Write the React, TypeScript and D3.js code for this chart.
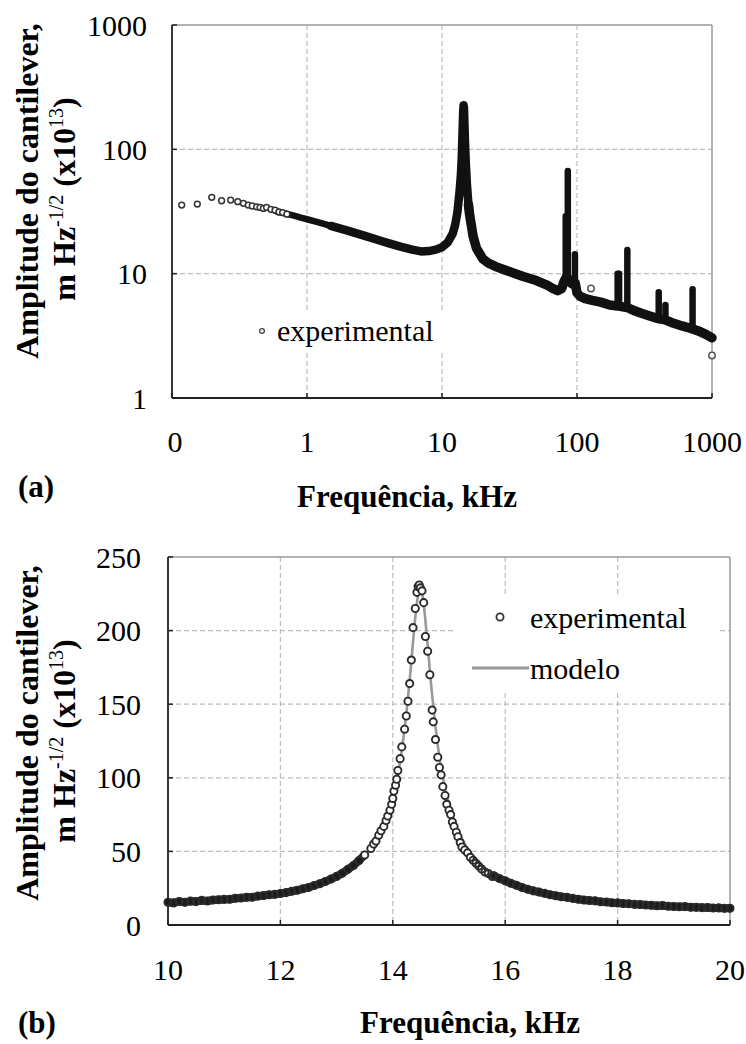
import React from "react";
import * as d3 from "d3";

// ---------- DATA (a) : log-log spectrum ----------
const topXTicks = [0.1, 1, 10, 100, 1000];
const topXTickLabels = ["0", "1", "10", "100", "1000"];
const topYTicks = [1, 10, 100, 1000];
const topYTickLabels = ["1", "10", "100", "1000"];

// sparse low-frequency points [kHz, amplitude]
const topSparse: [number, number][] = [
  [0.118, 35.6], [0.154, 36.3], [0.197, 41.1], [0.233, 38.6], [0.272, 39.1],
  [0.307, 37.9], [0.338, 36.8], [0.367, 35.6], [0.393, 35.0], [0.424, 34.5],
  [0.449, 34.1], [0.475, 33.5], [0.502, 34.1], [0.541, 32.9], [0.58, 32.4],
  [0.62, 31.4], [0.66, 31.0], [0.71, 30.1],
];

// dense band (thousands of overlapping points) [kHz, amplitude]
const topBand: [number, number][] = [
  [0.6, 31.5], [0.7, 30.4], [0.8, 29.3], [0.9, 28.2],
  [1.0, 27.4], [1.2, 26], [1.5, 24.2], [2.0, 22.2], [2.5, 20.6], [3.0, 19.4],
  [3.5, 18.4], [4.0, 17.6], [5.0, 16.4], [6.0, 15.6], [7.0, 15.1], [8.0, 15.2],
  [9.0, 15.6], [10, 16.3], [11, 17.8], [12, 21], [12.5, 24.5], [13, 31],
  [13.5, 46], [13.8, 62], [14.0, 85], [14.2, 140], [14.35, 200], [14.45, 226],
  [14.55, 215], [14.65, 165], [14.8, 115], [15.0, 78], [15.3, 52], [15.7, 36],
  [16, 30], [17, 20], [18, 16], [20, 13.2], [22, 12.2], [25, 11.4], [30, 10.6],
  [35, 10], [40, 9.5], [50, 8.8], [60, 8.1], [66, 7.6], [72, 7.3], [77, 7.6],
  [80, 8.6], [84, 9.5], [88, 8.6], [93, 8.2], [97, 8.4], [100, 7], [105, 6.6],
  [115, 6.3], [130, 6.1], [150, 5.9], [175, 5.6], [200, 5.5], [240, 5.3],
  [270, 5.0], [300, 4.8], [350, 4.55], [400, 4.35], [450, 4.25], [500, 4.05],
  [600, 3.8], [700, 3.62], [800, 3.45], [900, 3.25], [1000, 3.05],
];

// narrow spikes: [kHz, base amplitude, top amplitude]
const topSpikes: [number, number, number][] = [
  [82.5, 9, 29], [85.5, 9, 67], [96.5, 8.2, 14.3], [200, 5.5, 10],
  [205, 5.5, 10], [236, 5.3, 15.5], [403, 4.4, 7.1], [452, 4.3, 5.6], [718, 3.6, 7.5],
];

const topOutliers: [number, number][] = [[127, 7.6], [1000, 2.2]];

// ---------- DATA (b) : linear zoom on resonance ----------
const botXTicks = [10, 12, 14, 16, 18, 20];
const botYTicks = [0, 50, 100, 150, 200, 250];

const expLeftTail: [number, number][] = [
  [10.0, 15.5], [10.1, 15.0], [10.2, 16.0], [10.3, 15.4], [10.4, 16.2], [10.5, 15.9],
  [10.6, 16.7], [10.7, 16.3], [10.8, 17.0], [10.9, 17.2], [11.0, 17.4], [11.1, 17.5],
  [11.2, 18.2], [11.3, 18.3], [11.4, 18.8], [11.5, 18.9], [11.6, 19.6], [11.7, 20.0],
  [11.8, 20.6], [11.9, 20.8], [12.0, 21.4], [12.1, 22.0], [12.2, 22.9], [12.3, 23.6],
  [12.4, 24.6], [12.5, 25.5], [12.6, 26.8], [12.7, 28.0], [12.8, 29.6], [12.9, 31.2],
  [13.0, 33.0], [13.1, 35.2], [13.2, 37.8], [13.3, 40.4], [13.4, 43.8], [13.5, 47.6],
];

const expPeak: [number, number][] = [
  [13.61, 52], [13.66, 55], [13.70, 57], [13.75, 61], [13.79, 64], [13.84, 67],
  [13.88, 71], [13.91, 74], [13.95, 78], [13.98, 82], [14.00, 86], [14.02, 91],
  [14.05, 95], [14.07, 99], [14.09, 105], [14.13, 113], [14.16, 121], [14.21, 133],
  [14.24, 142], [14.27, 152], [14.30, 164], [14.33, 180], [14.36, 202], [14.40, 215],
  [14.43, 226], [14.45, 230], [14.47, 231], [14.49, 229], [14.52, 227], [14.55, 219],
  [14.58, 196], [14.62, 186], [14.66, 170], [14.70, 146], [14.72, 138], [14.76, 126],
  [14.80, 114], [14.83, 107], [14.86, 102], [14.89, 94], [14.93, 88], [14.96, 82],
  [15.00, 78], [15.03, 75], [15.06, 70], [15.09, 67], [15.13, 63], [15.16, 60],
  [15.20, 56], [15.23, 53], [15.28, 51], [15.33, 49], [15.38, 46], [15.43, 44],
  [15.48, 42], [15.53, 40], [15.58, 38], [15.64, 36], [15.70, 35], [15.77, 33],
];

const expRightTail: [number, number][] = [
  [15.8, 33.5], [15.9, 31.5], [16.0, 30.0], [16.1, 28.4], [16.2, 27.0], [16.3, 25.5],
  [16.4, 24.3], [16.5, 23.2], [16.6, 22.4], [16.7, 21.5], [16.8, 20.6], [16.9, 19.9],
  [17.0, 19.2], [17.1, 18.8], [17.2, 18.1], [17.3, 17.5], [17.4, 17.0], [17.5, 16.6],
  [17.6, 16.4], [17.7, 15.8], [17.8, 15.6], [17.9, 15.1], [18.0, 15.0], [18.1, 14.6],
  [18.2, 14.4], [18.3, 14.0], [18.4, 13.9], [18.5, 13.6], [18.6, 13.4], [18.7, 13.1],
  [18.8, 13.2], [18.9, 12.7], [19.0, 12.6], [19.1, 12.4], [19.2, 12.5], [19.3, 12.1],
  [19.4, 12.0], [19.5, 11.8], [19.6, 11.9], [19.7, 11.5], [19.8, 11.6], [19.9, 11.3],
  [20.0, 11.4],
];

const modelCurve: [number, number][] = [
  [10, 15], [10.5, 16], [11, 17.4], [11.5, 19.3], [12, 22], [12.5, 26.4], [13, 33.5],
  [13.25, 39.5], [13.5, 47.5], [13.75, 62], [13.93, 77], [14.03, 91], [14.13, 111],
  [14.23, 140], [14.33, 179], [14.38, 201], [14.43, 219], [14.49, 229], [14.53, 224],
  [14.58, 207], [14.63, 186], [14.68, 164], [14.73, 145], [14.83, 114], [14.93, 93],
  [15.03, 78], [15.13, 67], [15.28, 55], [15.53, 42.5], [15.78, 34.5], [16.03, 29],
  [16.5, 22.6], [17, 18.7], [17.5, 16.2], [18, 14.5], [18.5, 13.3], [19, 12.4],
  [19.5, 11.8], [20, 11.3],
];

// ---------- LAYOUT ----------
const W = 746;
const H = 1044;
const SERIF = '"Liberation Serif", "Times New Roman", Times, serif';
const TICK_FS = 30;
const TITLE_FS = 31;
const YTITLE_FS = 32;
const LEGEND_FS = 30;
const GRID = "#bdbdbd";

const xTop = d3.scaleLog().domain([0.1, 1000]).range([172, 712]);
const yTop = d3.scaleLog().domain([1, 1000]).range([398, 25]);
const xBot = d3.scaleLinear().domain([10, 20]).range([168, 730]);
const yBot = d3.scaleLinear().domain([0, 250]).range([925, 557]);

const serif = { fontFamily: SERIF };

function Frame({ x0, x1, y0, y1 }: { x0: number; x1: number; y0: number; y1: number }) {
  return (
    <g>
      <line x1={x0} y1={y0} x2={x1} y2={y0} stroke="#9a9a9a" strokeWidth={1.5} />
      <line x1={x1} y1={y0} x2={x1} y2={y1} stroke="#9a9a9a" strokeWidth={1.5} />
      <line x1={x0} y1={y0} x2={x0} y2={y1} stroke="#222" strokeWidth={1.8} />
      <line x1={x0} y1={y1} x2={x1} y2={y1} stroke="#222" strokeWidth={1.8} />
    </g>
  );
}

function YTitle({ x, y }: { x: number; y: number }) {
  return (
    <g style={serif} fontWeight="bold" fontSize={YTITLE_FS} fill="#000">
      <text transform={`translate(${x},${y}) rotate(-90)`} textAnchor="middle">
        Amplitude do cantilever,
      </text>
      <text transform={`translate(${x + 37},${y + 8}) rotate(-90)`} textAnchor="middle">
        <tspan>m Hz</tspan>
        <tspan fontSize={20} fontWeight="normal" dy={-12}>-1/2</tspan>
        <tspan dy={12}> (x10</tspan>
        <tspan fontSize={20} fontWeight="normal" dy={-12}>13</tspan>
        <tspan dy={12}>)</tspan>
      </text>
    </g>
  );
}

function TopChart() {
  const [x0, x1] = xTop.range();
  const [y1, y0] = yTop.range();
  const seg = (lo: number, hi: number) =>
    d3
      .line<[number, number]>()
      .x((d) => xTop(d[0]))
      .y((d) => yTop(d[1]))(topBand.filter((d) => d[0] >= lo && d[0] <= hi)) || "";
  return (
    <g>
      {topYTicks.filter((t) => t > 1 && t < 1000).map((t) => (
        <line key={"gy" + t} x1={x0} x2={x1} y1={yTop(t)} y2={yTop(t)} stroke={GRID} strokeWidth={1.2} strokeDasharray="5,3" />
      ))}
      {topXTicks.filter((t) => t > 0.1 && t < 1000).map((t) => (
        <line key={"gx" + t} y1={y0} y2={y1} x1={xTop(t)} x2={xTop(t)} stroke={GRID} strokeWidth={1.2} strokeDasharray="5,3" />
      ))}
      <rect x={250} y={312} width={200} height={38} fill="#fff" />
      <circle cx={262} cy={331} r={2.4} fill="none" stroke="#444" strokeWidth={1.3} />
      <text x={277} y={341} style={serif} fontSize={LEGEND_FS}>experimental</text>
      <Frame x0={x0} x1={x1} y0={y0} y1={y1} />
      {topYTicks.map((t) => (
        <line key={"ty" + t} x1={x0} x2={x0 + 5} y1={yTop(t)} y2={yTop(t)} stroke="#222" strokeWidth={1.5} />
      ))}
      {topXTicks.map((t) => (
        <line key={"tx" + t} x1={xTop(t)} x2={xTop(t)} y1={y1} y2={y1 - 5} stroke="#222" strokeWidth={1.5} />
      ))}
      <g fill="none" stroke="#111" strokeLinejoin="round" strokeLinecap="round">
        <path d={seg(0.6, 2.0)} strokeWidth={6.5} />
        <path d={seg(1.5, 16)} strokeWidth={8.5} />
        <path d={seg(15.7, 1000)} strokeWidth={9.5} />
      </g>
      <g stroke="#111" strokeWidth={6.5} strokeLinecap="round">
        {topSpikes.map((d, i) => (
          <line key={"k" + i} x1={xTop(d[0])} x2={xTop(d[0])} y1={yTop(d[1])} y2={yTop(d[2])} />
        ))}
      </g>
      {topSparse.map((d, i) => (
        <circle key={"s" + i} cx={xTop(d[0])} cy={yTop(d[1])} r={2.9} fill="#fff" stroke="#333" strokeWidth={1.5} />
      ))}
      {topOutliers.map((d, i) => (
        <circle key={"o" + i} cx={xTop(d[0])} cy={yTop(d[1])} r={3.2} fill="#fff" stroke="#555" strokeWidth={1.5} />
      ))}
      <g style={serif} fontSize={TICK_FS} fill="#000">
        {topYTicks.map((t, i) => (
          <text key={"ly" + t} x={147} y={yTop(t)} dy="0.35em" textAnchor="end">{topYTickLabels[i]}</text>
        ))}
        {topXTicks.map((t, i) => (
          <text key={"lx" + t} x={xTop(t) + (i === 0 ? 3 : 0)} y={452} textAnchor="middle">{topXTickLabels[i]}</text>
        ))}
      </g>
      <text x={18} y={497} style={serif} fontWeight="bold" fontSize={TITLE_FS}>(a)</text>
      <text x={407} y={507} style={serif} fontWeight="bold" fontSize={TITLE_FS} textAnchor="middle">Frequência, kHz</text>
      <YTitle x={38} y={191} />
    </g>
  );
}

function BottomChart() {
  const [x0, x1] = xBot.range();
  const [y1, y0] = yBot.range();
  const allExp = [...expLeftTail, ...expPeak, ...expRightTail];
  const lineGen = d3
    .line<[number, number]>()
    .x((d) => xBot(d[0]))
    .y((d) => yBot(d[1]));
  const modelPath = d3
    .line<[number, number]>()
    .x((d) => xBot(d[0]))
    .y((d) => yBot(d[1]))
    .curve(d3.curveMonotoneX)(modelCurve) || "";
  return (
    <g>
      {botYTicks.filter((t) => t > 0 && t < 250).map((t) => (
        <line key={"gy" + t} x1={x0} x2={x1} y1={yBot(t)} y2={yBot(t)} stroke={GRID} strokeWidth={1.2} strokeDasharray="5,3" />
      ))}
      {botXTicks.filter((t) => t > 10 && t < 20).map((t) => (
        <line key={"gx" + t} y1={y0} y2={y1} x1={xBot(t)} x2={xBot(t)} stroke={GRID} strokeWidth={1.2} strokeDasharray="5,3" />
      ))}
      <rect x={455} y={596} width={264} height={96} fill="#fff" />
      <circle cx={500} cy={617} r={3.6} fill="#fff" stroke="#333" strokeWidth={1.8} />
      <text x={530} y={628} style={serif} fontSize={LEGEND_FS}>experimental</text>
      <line x1={472} x2={529} y1={668} y2={668} stroke="#999" strokeWidth={3} />
      <text x={530} y={679} style={serif} fontSize={LEGEND_FS}>modelo</text>
      <Frame x0={x0} x1={x1} y0={y0} y1={y1} />
      {botYTicks.map((t) => (
        <line key={"ty" + t} x1={x0} x2={x0 + 5} y1={yBot(t)} y2={yBot(t)} stroke="#222" strokeWidth={1.5} />
      ))}
      {botXTicks.map((t) => (
        <line key={"tx" + t} x1={xBot(t)} x2={xBot(t)} y1={y1} y2={y1 - 5} stroke="#222" strokeWidth={1.5} />
      ))}
      <path d={modelPath} fill="none" stroke="#999" strokeWidth={2.6} />
      <g fill="none" stroke="#1a1a1a" strokeLinejoin="round" strokeLinecap="round" strokeWidth={8}>
        <path d={lineGen(expLeftTail) || ""} />
        <path d={lineGen(expRightTail) || ""} />
      </g>
      {allExp.map((d, i) => (
        <circle key={"e" + i} cx={xBot(d[0])} cy={yBot(d[1])} r={3.6} fill={d[1] > 45 ? "#fff" : "none"} stroke="#2a2a2a" strokeWidth={1.9} />
      ))}
      <g style={serif} fontSize={TICK_FS} fill="#000">
        {botYTicks.map((t) => (
          <text key={"ly" + t} x={141} y={yBot(t)} dy="0.35em" textAnchor="end">{t}</text>
        ))}
        {botXTicks.map((t) => (
          <text key={"lx" + t} x={xBot(t)} y={980} textAnchor="middle">{t}</text>
        ))}
      </g>
      <text x={18} y={1033} style={serif} fontWeight="bold" fontSize={TITLE_FS}>(b)</text>
      <text x={470} y={1033} style={serif} fontWeight="bold" fontSize={TITLE_FS} textAnchor="middle">Frequência, kHz</text>
      <YTitle x={38} y={733} />
    </g>
  );
}

export default function App() {
  return (
    <svg
      width={W}
      height={H}
      viewBox={`0 0 ${W} ${H}`}
      style={{ position: "absolute", left: 0, top: 0, background: "#fff", fontFamily: SERIF }}
    >
      <rect width={W} height={H} fill="#fff" />
      <TopChart />
      <BottomChart />
    </svg>
  );
}
